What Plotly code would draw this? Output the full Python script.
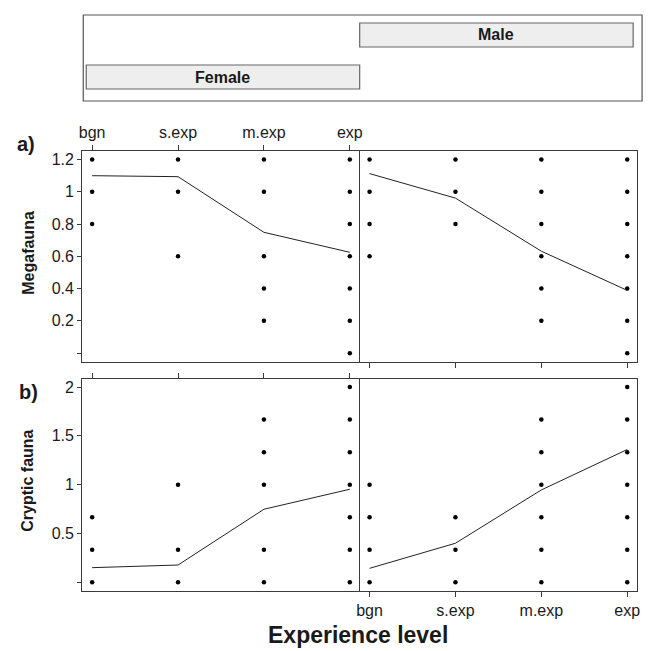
import plotly.graph_objects as go

W, H = 652, 651

levels = ["bgn", "s.exp", "m.exp", "exp"]

# Megafauna (panel a) observed points per experience level
mega_female_pts = {"bgn": [1.2, 1.0, 0.8], "s.exp": [1.2, 1.0, 0.6],
                   "m.exp": [1.2, 1.0, 0.6, 0.4, 0.2],
                   "exp": [1.2, 1.0, 0.8, 0.6, 0.4, 0.2, 0.0]}
mega_male_pts = {"bgn": [1.2, 1.0, 0.8, 0.6], "s.exp": [1.2, 1.0, 0.8],
                 "m.exp": [1.2, 1.0, 0.8, 0.6, 0.4, 0.2],
                 "exp": [1.2, 1.0, 0.8, 0.6, 0.4, 0.2, 0.0]}
mega_female_line = [1.10, 1.094, 0.749, 0.625]
mega_male_line = [1.113, 0.961, 0.632, 0.389]

# Cryptic fauna (panel b)
cryp_female_pts = {"bgn": [0.0, 0.333, 0.667], "s.exp": [0.0, 0.333, 1.0],
                   "m.exp": [0.0, 0.333, 1.0, 1.333, 1.667],
                   "exp": [0.0, 0.333, 0.667, 1.0, 1.333, 1.667, 2.0]}
cryp_male_pts = {"bgn": [0.0, 0.333, 0.667, 1.0], "s.exp": [0.0, 0.333, 0.667],
                 "m.exp": [0.0, 0.333, 0.667, 1.0, 1.333, 1.667],
                 "exp": [0.0, 0.333, 0.667, 1.0, 1.333, 1.667, 2.0]}
cryp_female_line = [0.15, 0.177, 0.748, 0.953]
cryp_male_line = [0.143, 0.40, 0.946, 1.36]

mega_ticks = [0, 0.2, 0.4, 0.6, 0.8, 1.0, 1.2]
mega_ticktext = ["", "0.2", "0.4", "0.6", "0.8", "1", "1.2"]
cryp_ticks = [0, 0.5, 1.0, 1.5, 2.0]
cryp_ticktext = ["", "0.5", "1", "1.5", "2"]

FONT = "Liberation Sans, Arial, sans-serif"
LINEC = "#3a3a3a"
TXT = "#1a1a1a"


def px(x):
    return x / W


def py(y):
    return 1 - y / H


fig = go.Figure()

panels = [
    (mega_female_pts, mega_female_line, "x", "y"),
    (mega_male_pts, mega_male_line, "x2", "y2"),
    (cryp_female_pts, cryp_female_line, "x3", "y3"),
    (cryp_male_pts, cryp_male_line, "x4", "y4"),
]
for pts, line, xa, ya in panels:
    xs, ys = [], []
    for lv in levels:
        for v in pts[lv]:
            xs.append(lv)
            ys.append(v)
    fig.add_trace(go.Scatter(x=xs, y=ys, mode="markers", xaxis=xa, yaxis=ya,
                             marker=dict(size=4.5, color="black"), showlegend=False))
    fig.add_trace(go.Scatter(x=levels, y=line, mode="lines", xaxis=xa, yaxis=ya,
                             line=dict(color="#222222", width=1), showlegend=False))

left = [px(80), px(360)]
right = [px(360), px(640)]
a_dom = [py(362), py(150.7)]
b_dom = [py(590.7), py(379)]
xr = [-0.115, 3.115]

common_x = dict(type="category", categoryorder="array", categoryarray=levels, range=xr,
                showline=True, mirror=True, linecolor=LINEC, linewidth=1.2,
                ticks="outside", ticklen=5, tickcolor=LINEC, showgrid=False, zeroline=False,
                tickfont=dict(family=FONT, size=16, color=TXT), fixedrange=True)
common_y = dict(showline=True, linecolor=LINEC, linewidth=1.2,
                showgrid=False, zeroline=False, tickcolor=LINEC,
                tickfont=dict(family=FONT, size=16, color=TXT), fixedrange=True)

fig.update_layout(
    width=W, height=H, margin=dict(l=0, r=0, t=0, b=0),
    paper_bgcolor="white", plot_bgcolor="white", showlegend=False,
    xaxis=dict(common_x, domain=left, anchor="y", side="top", showticklabels=True),
    xaxis2=dict(common_x, domain=right, anchor="y2", side="bottom", showticklabels=False),
    xaxis3=dict(common_x, domain=left, anchor="y3", side="top", showticklabels=False),
    xaxis4=dict(common_x, domain=right, anchor="y4", side="bottom", showticklabels=True),
    yaxis=dict(common_y, domain=a_dom, anchor="x", range=[-0.055, 1.255], mirror=False,
               tickvals=mega_ticks, ticktext=mega_ticktext, ticks="outside", ticklen=4),
    yaxis2=dict(common_y, domain=a_dom, anchor="x2", range=[-0.055, 1.255], mirror=True,
                showticklabels=False, ticks=""),
    yaxis3=dict(common_y, domain=b_dom, anchor="x3", range=[-0.086, 2.082], mirror=False,
                tickvals=cryp_ticks, ticktext=cryp_ticktext, ticks="outside", ticklen=4),
    yaxis4=dict(common_y, domain=b_dom, anchor="x4", range=[-0.086, 2.082], mirror=True,
                showticklabels=False, ticks=""),
)

# key box with strips
shapes = [
    dict(type="rect", xref="paper", yref="paper", x0=px(81), x1=px(645), y0=py(101), y1=py(15),
         line=dict(color="#555555", width=1.2), fillcolor="rgba(0,0,0,0)"),
    dict(type="rect", xref="paper", yref="paper", x0=px(360), x1=px(636), y0=py(47), y1=py(23),
         line=dict(color="#666666", width=1.2), fillcolor="#eeeeee"),
    dict(type="rect", xref="paper", yref="paper", x0=px(84), x1=px(360), y0=py(89), y1=py(65),
         line=dict(color="#666666", width=1.2), fillcolor="#eeeeee"),
]
fig.update_layout(shapes=shapes)

ann = [
    dict(text="<b>Male</b>", x=px(498), y=py(35), size=16, ya="middle"),
    dict(text="<b>Female</b>", x=px(222), y=py(77), size=16, ya="middle"),
    dict(text="<b>a)</b>", x=px(23), y=py(144), size=20, ya="middle"),
    dict(text="<b>b)</b>", x=px(26), y=py(392), size=20, ya="middle"),
    dict(text="<b>Experience level</b>", x=px(358), y=py(650), size=23, ya="bottom"),
]
for a in ann:
    fig.add_annotation(text=a["text"], x=a["x"], y=a["y"], xref="paper", yref="paper",
                       showarrow=False, xanchor="center", yanchor=a["ya"],
                       font=dict(family=FONT, size=a["size"], color=TXT))
for t, yc in [("<b>Megafauna</b>", 253), ("<b>Cryptic fauna</b>", 481)]:
    fig.add_annotation(text=t, x=px(25), y=py(yc), xref="paper", yref="paper",
                       showarrow=False, xanchor="center", yanchor="middle", textangle=-90,
                       font=dict(family=FONT, size=16, color=TXT))

fig.write_html("out.html", config={"displayModeBar": False},
               post_script="document.body.style.margin='0';document.body.style.overflow='hidden';")
